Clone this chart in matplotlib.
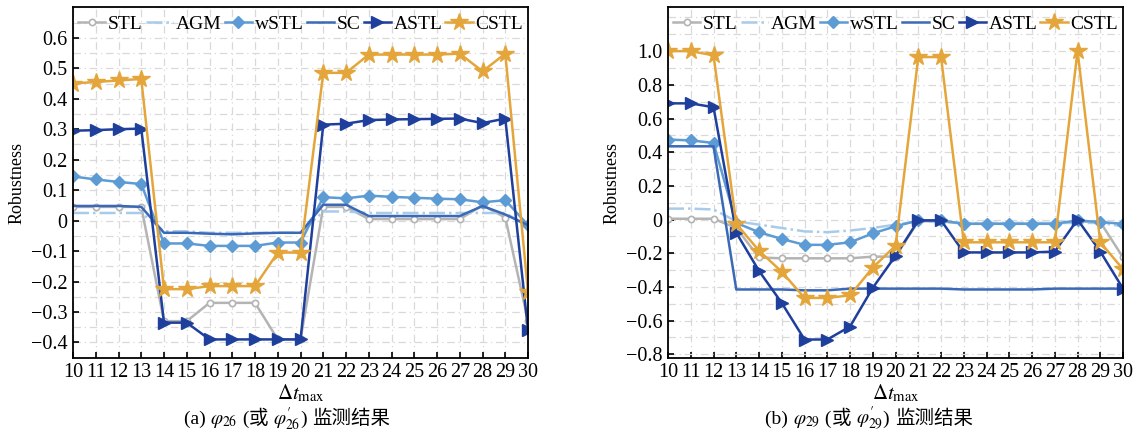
import numpy as np
import matplotlib
matplotlib.use("Agg")
import matplotlib.pyplot as plt
from matplotlib.ticker import MultipleLocator
from matplotlib.offsetbox import TextArea, HPacker, AnchoredOffsetbox

FAMILY = ['Liberation Serif', 'Noto Sans CJK SC']
plt.rcParams['font.family'] = FAMILY
plt.rcParams['mathtext.fontset'] = 'stix'
plt.rcParams['axes.unicode_minus'] = True

x = list(range(10, 31))

# (a) phi_26
stl_a = [0.045, 0.045, 0.045, 0.045, -0.33, -0.33, -0.27, -0.27, -0.27, -0.39, -0.39,
         0.045, 0.045, 0.005, 0.005, 0.005, 0.005, 0.005, 0.05, 0.01, -0.33]
agm_a = [0.025, 0.025, 0.025, 0.025, -0.035, -0.035, -0.04, -0.04, -0.04, -0.04, -0.04,
         0.03, 0.03, 0.025, 0.025, 0.025, 0.025, 0.025, 0.025, 0.025, -0.02]
wstl_a = [0.145, 0.135, 0.127, 0.12, -0.075, -0.075, -0.083, -0.083, -0.083, -0.072, -0.072,
          0.077, 0.073, 0.082, 0.078, 0.075, 0.072, 0.07, 0.06, 0.067, -0.015]
sc_a = [0.048, 0.048, 0.048, 0.045, -0.04, -0.04, -0.043, -0.045, -0.042, -0.04, -0.04,
        0.052, 0.052, 0.015, 0.015, 0.015, 0.015, 0.015, 0.048, 0.02, -0.015]
astl_a = [0.295, 0.297, 0.30, 0.302, -0.335, -0.335, -0.39, -0.39, -0.39, -0.39, -0.39,
          0.315, 0.318, 0.33, 0.332, 0.333, 0.334, 0.335, 0.32, 0.335, -0.36]
cstl_a = [0.45, 0.455, 0.46, 0.465, -0.225, -0.225, -0.215, -0.215, -0.215, -0.105, -0.105,
          0.485, 0.485, 0.545, 0.545, 0.545, 0.545, 0.548, 0.49, 0.548, -0.235]

# (b) phi_29
stl_b = [0.005, 0.005, 0.005, -0.05, -0.225, -0.23, -0.23, -0.23, -0.23, -0.22, -0.22,
         -0.01, -0.01, -0.025, -0.025, -0.025, -0.025, -0.025, -0.01, -0.015, -0.225]
agm_b = [0.065, 0.065, 0.06, -0.01, -0.03, -0.05, -0.07, -0.075, -0.065, -0.05, -0.03,
         -0.01, -0.015, -0.02, -0.02, -0.02, -0.02, -0.02, -0.02, -0.02, -0.04]
wstl_b = [0.475, 0.47, 0.455, -0.02, -0.075, -0.115, -0.15, -0.15, -0.135, -0.082, -0.04,
          -0.005, -0.005, -0.025, -0.025, -0.025, -0.025, -0.025, -0.005, -0.015, -0.025]
sc_b = [0.435, 0.435, 0.435, -0.415, -0.415, -0.415, -0.42, -0.42, -0.41, -0.41, -0.41,
        -0.41, -0.41, -0.415, -0.415, -0.415, -0.415, -0.41, -0.41, -0.41, -0.41]
astl_b = [0.69, 0.69, 0.667, -0.078, -0.305, -0.495, -0.712, -0.712, -0.635, -0.405, -0.215,
          -0.005, -0.005, -0.195, -0.195, -0.195, -0.195, -0.19, 0.0, -0.19, -0.41]
cstl_b = [1.0, 1.0, 0.975, -0.025, -0.185, -0.31, -0.465, -0.465, -0.45, -0.285, -0.155,
          0.965, 0.965, -0.135, -0.135, -0.135, -0.135, -0.135, 1.0, -0.135, -0.295]

yticks_a = [-0.4, -0.3, -0.2, -0.1, 0, 0.1, 0.2, 0.3, 0.4, 0.5, 0.6]
yticks_b = [-0.8, -0.6, -0.4, -0.2, 0, 0.2, 0.4, 0.6, 0.8, 1.0]

c_stl = '#b4b4b4'
c_agm = '#a9cbea'
c_wstl = '#5c9bd3'
c_sc = '#3a69b8'
c_astl = '#1f3f9c'
c_cstl = '#e4a63b'

fig = plt.figure(figsize=(11.39, 4.32), dpi=100)
ax_a = fig.add_axes([0.0641, 0.172, 0.3995, 0.811])
ax_b = fig.add_axes([0.5865, 0.172, 0.3995, 0.811])


def fmt(v):
    if abs(v) < 1e-9:
        return '0'
    return f'{v:.1f}'.replace('-', '\u2212')


def draw(ax, stl, agm, wstl, sc, astl, cstl):
    lw = 1.8
    ax.plot(x, stl, '-o', color=c_stl, lw=lw, ms=4.5, mfc='white', mec=c_stl, mew=1.2, label='STL')
    ax.plot(x, agm, '-.', color=c_agm, lw=lw, label='AGM')
    ax.plot(x, wstl, '-D', color=c_wstl, lw=lw, ms=6.5, label='wSTL')
    ax.plot(x, sc, '-', color=c_sc, lw=lw, label='SC')
    ax.plot(x, astl, '->', color=c_astl, lw=lw, ms=8, label='ASTL')
    ax.plot(x, cstl, '-*', color=c_cstl, lw=lw, ms=13, label='CSTL')
    ax.set_xlim(10, 30)
    ax.set_xticks(x)
    ax.tick_params(direction='in', labelsize=14.5, length=4, width=1.2, pad=4)
    ax.tick_params(which='minor', length=0)
    ax.grid(True, which='both', color='#d9d9d9', linestyle=(0, (6, 3, 1, 3)), linewidth=0.9)
    ax.set_axisbelow(True)
    ax.set_xlabel(r'$\Delta t_{\mathrm{max}}$', fontsize=15, labelpad=0.5)
    ax.set_ylabel('Robustness', fontsize=13, labelpad=4)
    ax.legend(loc='upper left', bbox_to_anchor=(-0.006, 1.0), ncol=6, frameon=False,
              fontsize=14, handlelength=1.4, handletextpad=0.15, columnspacing=0.15,
              borderaxespad=0.0, borderpad=0.4)
    for s in ax.spines.values():
        s.set_linewidth(1.3)


draw(ax_a, stl_a, agm_a, wstl_a, sc_a, astl_a, cstl_a)
ax_a.set_ylim(-0.45, 0.70)
ax_a.set_yticks(yticks_a)
ax_a.set_yticklabels([fmt(v) for v in yticks_a])
ax_a.yaxis.set_minor_locator(MultipleLocator(0.05))

draw(ax_b, stl_b, agm_b, wstl_b, sc_b, astl_b, cstl_b)
ax_b.set_ylim(-0.82, 1.26)
ax_b.set_yticks(yticks_b)
ax_b.set_yticklabels([fmt(v) for v in yticks_b])
ax_b.yaxis.set_minor_locator(MultipleLocator(0.1))


def caption(xc, parts):
    props = dict(fontsize=14, family=FAMILY)
    boxes = [TextArea(p, textprops=props) for p in parts]
    pack = HPacker(children=boxes, align='baseline', pad=0, sep=0)
    box = AnchoredOffsetbox(loc='center', child=pack, pad=0, borderpad=0, frameon=False,
                            bbox_to_anchor=(xc, 0.031), bbox_transform=fig.transFigure)
    fig.add_artist(box)


caption(0.252, ['(a) ', r'$\varphi_{26}$', ' (', '或', ' ', r'$\varphi^{\prime}_{26}$', ') ', '监测结果'])
caption(0.763, ['(b) ', r'$\varphi_{29}$', ' (', '或', ' ', r'$\varphi^{\prime}_{29}$', ') ', '监测结果'])

fig.savefig('out.png', dpi=100)
